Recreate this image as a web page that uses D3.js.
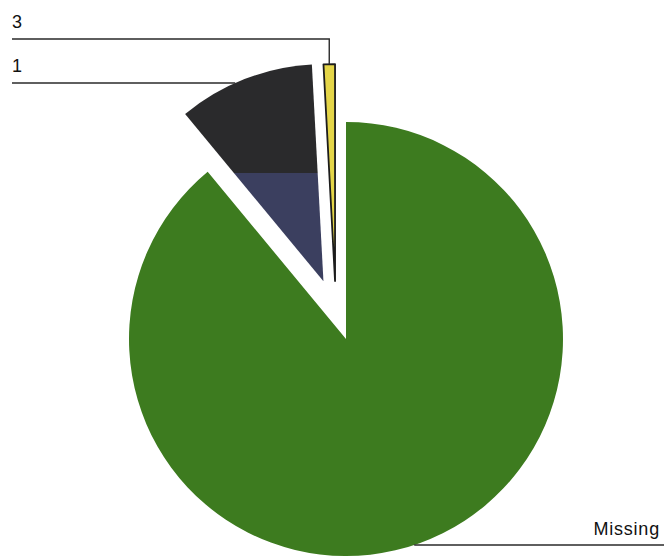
<!DOCTYPE html>
<html>
<head>
<meta charset="utf-8">
<script src="https://cdn.jsdelivr.net/npm/d3@7"></script>
<style>
  html, body { margin: 0; padding: 0; background: #fff; }
  svg { display: block; }
  text { font-family: "Liberation Sans", Arial, sans-serif; fill: #111; }
</style>
</head>
<body>
<svg id="chart" width="664" height="557"></svg>
<script>
// DATA
var categories = ['Missing', '1', '3'];
var percents = [89.0, 10.15, 0.85];

// SETUP
var width = 664, height = 557;
var cx = 346, cy = 339, radius = 217;

var colors = { 'Missing': '#3d7b1f', '1': '#3b3f5f', '3': '#e4d548' };

// pulled-out slices: distance in px, direction in degrees (default = mid-angle)
var explode = {
  '1': { dist: 62 },
  '3': { dist: 59, dir: -10.7 }
};

// y of each label's leader line
var labelRows = { '3': 39, '1': 83, 'Missing': 545 };

var svg = d3.select('#chart');

/**
 * Generators
 */
var pie = d3.pie()
  .sort(null)
  .value(function (d) { return d.value; });

var drawArc = d3.arc()
  .innerRadius(0)
  .outerRadius(radius);

var arcs = pie(categories.map(function (c, i) {
  return { key: c, value: percents[i] };
}));

function midAngle(d) {
  return (d.startAngle + d.endAngle) / 2;
}

function offsetOf(d) {
  var e = explode[d.data.key];
  if (!e) return [0, 0];
  var a = e.dir !== undefined ? e.dir * Math.PI / 180 : midAngle(d);
  return [e.dist * Math.sin(a), -e.dist * Math.cos(a)];
}

// the scanned original shows the upper part of slice "1" much darker
var defs = svg.append('defs');
var shade = defs.append('linearGradient')
  .attr('id', 'shade-1')
  .attr('x1', 0).attr('y1', 0)
  .attr('x2', 0).attr('y2', 1);
shade.append('stop').attr('offset', 0).attr('stop-color', '#2a2a2c');
shade.append('stop').attr('offset', 0.5).attr('stop-color', '#2a2a2c');
shade.append('stop').attr('offset', 0.5).attr('stop-color', colors['1']);
shade.append('stop').attr('offset', 1).attr('stop-color', colors['1']);

/**
 * Slices
 */
var pieGroup = svg.append('g')
  .attr('transform', 'translate(' + cx + ',' + cy + ')');

pieGroup.selectAll('path.slice')
  .data(arcs)
  .enter()
  .append('path')
  .attr('class', 'slice')
  .attr('transform', function (d) {
    return 'translate(' + offsetOf(d) + ')';
  })
  .attr('d', drawArc)
  .attr('fill', function (d) {
    return d.data.key === '1' ? 'url(#shade-1)' : colors[d.data.key];
  })
  .attr('stroke', function (d) {
    return d.data.key === '3' ? '#1c1c1c' : 'none';
  })
  .attr('stroke-width', 1.8)
  .attr('stroke-linejoin', 'round');

/**
 * Leader lines + labels
 */
var byKey = {};
arcs.forEach(function (d) { byKey[d.data.key] = d; });

function leaderPath(key) {
  var d = byKey[key];
  var off = offsetOf(d);
  var rowY = labelRows[key];
  var ly = rowY - cy - off[1];
  var x;

  if (key === '3') {
    // up from the slice tip, then left to the label
    var a = midAngle(d);
    var px = cx + off[0] + radius * Math.sin(a);
    var py = cy + off[1] - radius * Math.cos(a);
    return 'M12,' + rowY + 'L' + px + ',' + rowY + 'L' + px + ',' + py;
  }
  if (key === '1') {
    x = cx + off[0] - Math.sqrt(radius * radius - ly * ly);
    return 'M12,' + rowY + 'L' + x + ',' + rowY;
  }
  x = cx + off[0] + Math.sqrt(radius * radius - ly * ly);
  return 'M' + x + ',' + rowY + 'L' + width + ',' + rowY;
}

var labelGroup = svg.append('g').attr('class', 'labels');

labelGroup.selectAll('path.leader')
  .data(categories)
  .enter()
  .append('path')
  .attr('class', 'leader')
  .attr('d', leaderPath)
  .attr('fill', 'none')
  .attr('stroke', '#2a2a2a')
  .attr('stroke-width', 1.4);

labelGroup.selectAll('text.label')
  .data(categories)
  .enter()
  .append('text')
  .attr('class', 'label')
  .attr('x', function (k) { return k === 'Missing' ? 660 : 12; })
  .attr('y', function (k) { return labelRows[k] - (k === 'Missing' ? 10 : 11); })
  .attr('text-anchor', function (k) { return k === 'Missing' ? 'end' : 'start'; })
  .style('font-size', '18px')
  .style('letter-spacing', function (k) { return k === 'Missing' ? '0.8px' : null; })
  .text(function (k) { return k; });
</script>
</body>
</html>
